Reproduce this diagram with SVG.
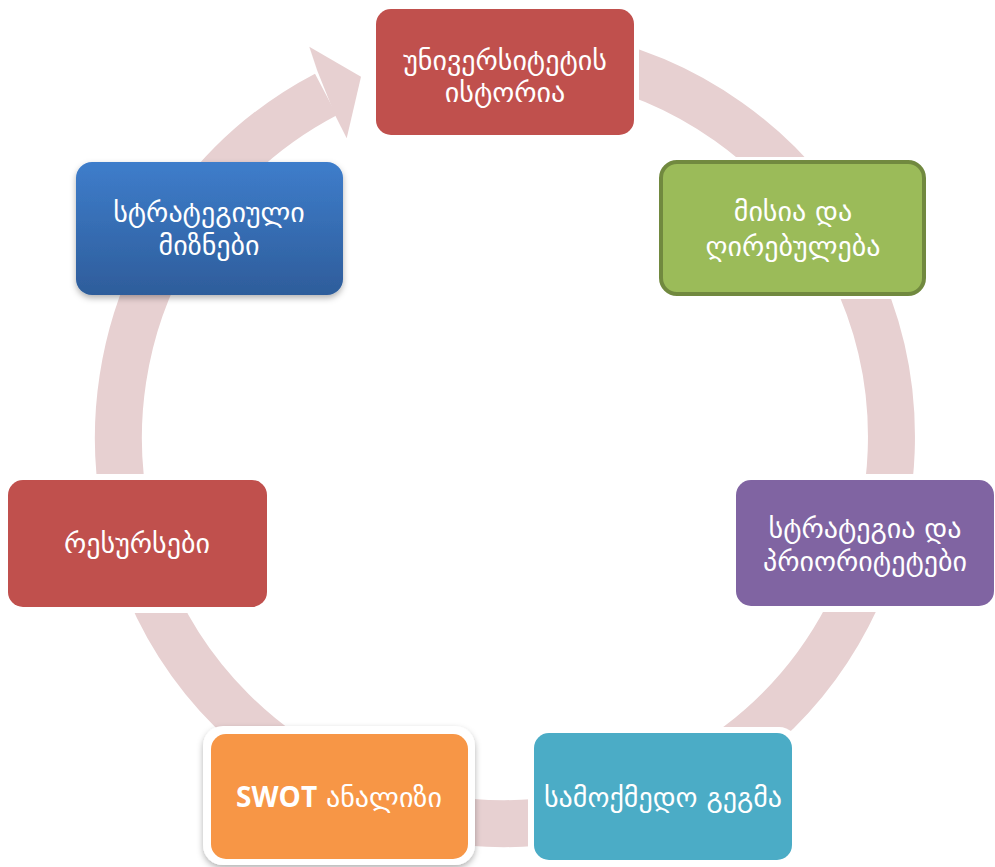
<svg xmlns="http://www.w3.org/2000/svg" width="995" height="867" viewBox="0 0 995 867">
<defs>
<style>
.t{font-family:"DejaVu Sans","Noto Sans",sans-serif;font-size:28px;fill:#fff;text-anchor:middle}
.halo{fill:#fff}
</style>
<linearGradient id="gBlue" x1="0" y1="0" x2="0" y2="1">
<stop offset="0" stop-color="#3E7DCB"/>
<stop offset="1" stop-color="#2E5D9B"/>
</linearGradient>
<filter id="sh" x="-10%" y="-10%" width="120%" height="130%">
<feDropShadow dx="0" dy="3" stdDeviation="3" flood-color="#000" flood-opacity="0.3"/>
</filter>
</defs>
<rect width="995" height="867" fill="#fff"/>
<g id="connectors">
<path d="M 572.1 56.4 A 386.5 386.5 0 1 1 325.9 94.5" fill="none" stroke="#E7D0D1" stroke-width="47"/>
<polygon points="317.3,70.7 309.3,46.7 361,76.7 346.7,138.3 335,115" fill="#E7D0D1"/>
</g>
<g id="node-history">
<rect class="halo" x="371" y="4" width="268" height="136" rx="19"/>
<rect x="376" y="9" width="258" height="126" rx="15" fill="#C0504D"/>
<text class="t" x="505" y="70">უნივერსიტეტის</text>
<text class="t" x="505" y="102">ისტორია</text>
</g>
<g id="node-mission">
<rect class="halo" x="656" y="157" width="273" height="142" rx="19"/>
<rect x="661" y="162" width="263" height="132" rx="16" fill="#9BBB59" stroke="#71893F" stroke-width="4"/>
<text class="t" x="793" y="221">მისია და</text>
<text class="t" x="793" y="256">ღირებულება</text>
</g>
<g id="node-strategy">
<rect class="halo" x="730" y="474" width="270" height="138" rx="19"/>
<rect x="736" y="480" width="258" height="126" rx="15" fill="#8064A2"/>
<text class="t" x="865" y="538">სტრატეგია და</text>
<text class="t" x="865" y="571">პრიორიტეტები</text>
</g>
<g id="node-action">
<rect class="halo" x="528" y="727" width="270" height="139" rx="19"/>
<rect x="534" y="733" width="258" height="127" rx="15" fill="#4BACC6"/>
<text class="t" x="663" y="807">სამოქმედო გეგმა</text>
</g>
<g id="node-swot">
<rect x="203" y="726" width="272" height="139" rx="20" fill="#fff" filter="url(#sh)"/>
<rect x="211" y="734" width="257" height="125" rx="15" fill="#F79646"/>
<text class="t" x="339" y="807"><tspan font-family="'Open Sans','Liberation Sans',sans-serif" font-weight="bold">SWOT</tspan> ანალიზი</text>
</g>
<g id="node-resources">
<rect class="halo" x="3" y="474" width="270" height="139" rx="19"/>
<rect x="8" y="480" width="259" height="127" rx="15" fill="#C0504D"/>
<text class="t" x="137" y="553">რესურსები</text>
</g>
<g id="node-goals">
<rect x="76" y="162" width="267" height="133" rx="16" fill="url(#gBlue)" filter="url(#sh)"/>
<text class="t" x="209" y="222">სტრატეგიული</text>
<text class="t" x="209" y="255">მიზნები</text>
</g>
</svg>
